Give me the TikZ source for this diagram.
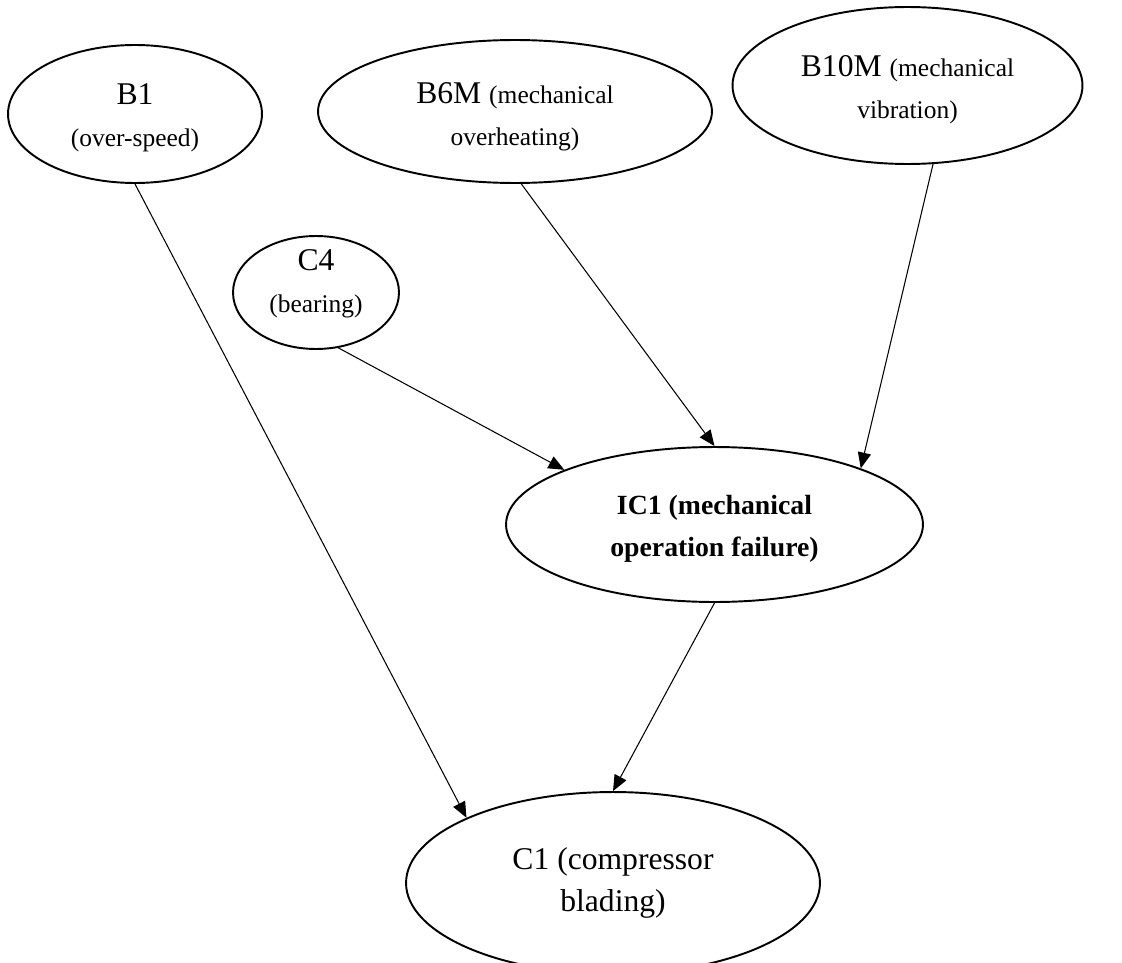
\documentclass[tikz,border=0pt]{standalone}
\usepackage{fontspec}
\setmainfont{Liberation Serif}
\usetikzlibrary{arrows.meta, shapes.geometric}
\newcommand{\smalltxt}{\fontsize{14.5}{20}\selectfont}

\begin{document}
\begin{tikzpicture}[
    x=0.02cm, y=-0.02cm,
    font=\fontsize{18}{24}\selectfont,
    oval/.style={draw, ellipse, line width=1.1pt, inner sep=0pt, align=center},
    boldoval/.style={oval, font=\bfseries\fontsize{15.8}{24}\selectfont},
    textpos/.style={text height=#1, text depth=0pt},
    arr/.style={-{Triangle[length=9pt, width=7.5pt]}, line width=0.6pt},
]
\clip (0,0) rectangle (1122,963);

% ============ top row: causes ============
\node[oval, minimum width=5.08cm, minimum height=2.76cm, textpos=37.4pt] (b1) at (135,114) {B1\\ \smalltxt (over-speed)};
\node[oval, minimum width=7.88cm, minimum height=2.86cm, textpos=39pt] (b6m) at (515,111.5) {B6M {\smalltxt (mechanical}\\ \smalltxt overheating)};
\node[oval, minimum width=7.0cm, minimum height=3.14cm, textpos=38pt] (b10m) at (907.5,85.5) {B10M {\smalltxt (mechanical}\\ \smalltxt vibration)};
\node[oval, minimum width=3.32cm, minimum height=2.26cm, textpos=23.2pt] (c4) at (316,292.5) {C4\\ \smalltxt (bearing)};

% ============ intermediate and final events ============
\node[boldoval, minimum width=8.34cm, minimum height=3.1cm, textpos=36.8pt] (ic1) at (714.5,524.5) {IC1 (mechanical\\ operation failure)};
\node[oval, minimum width=8.28cm, minimum height=3.64cm] (c1) at (613,883) {C1 (compressor\\ blading)};

\draw[arr] (b1.south) -- (c1.156);
\draw[arr] (c4.-68) -- (ic1.160);
\draw[arr] (b6m.-85) -- (ic1.north);
\draw[arr] (b10m.-72) -- (ic1.21);
\draw[arr] (ic1.south) -- (c1.north);

\end{tikzpicture}
\end{document}
